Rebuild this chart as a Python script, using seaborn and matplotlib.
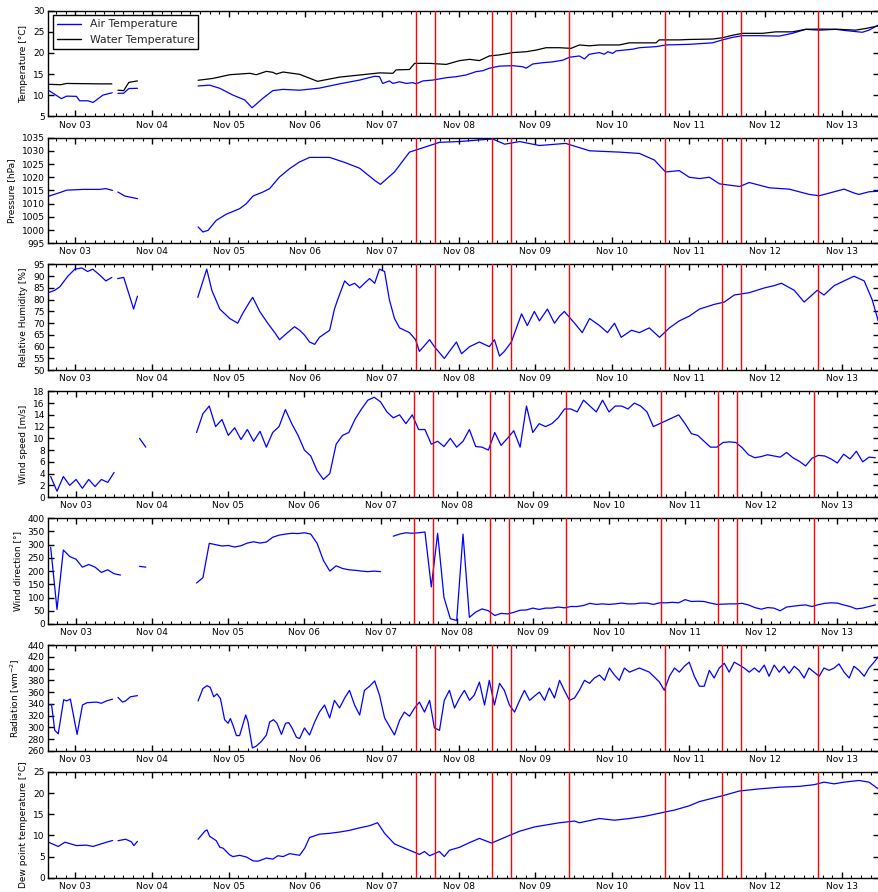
import numpy as np
import pandas as pd
import matplotlib
matplotlib.use("Agg")
import matplotlib.pyplot as plt
import matplotlib.dates as mdates
from matplotlib.lines import Line2D
import seaborn as sns

nan = np.nan
START = pd.Timestamp("2015-11-03 00:00")

# ---------------- data (times in hours after Nov 03 00:00) ----------------
air_h = [-8.5, -4.4, -2.8, 0.3, 1.3, 3.9, 5.5, 7.1, 8.6, 11.5, 12.5,
         13.3, 15.1, 16.7, 19.4, 25,
         38.4, 42.0, 45.2, 49.3, 53.0, 55.3, 58.7, 61.8, 65.0, 70.2, 76.4, 82.7, 89.0, 93.7,
         95.2, 96.2, 98.3, 99.4, 101.5, 103.6, 105.6, 106.7, 108.8, 111.9, 116.1, 119.2,
         122.3, 125.5, 127.5, 129.6, 132.8, 136.9, 140.1, 141.1, 143.2, 146.3, 149.4, 152.6,
         154.7, 157.8, 159.4, 160.9, 164.1, 165.6, 166.7, 168.2, 169.3, 174.5, 176.6, 181.8,
         184.9, 192.2, 197.4, 199.5, 202.6, 205.8, 208.9, 214.1, 220.4, 224.5, 228.7, 232.9,
         238.1, 241.2, 246.4, 248.5, 251.4]
air_t = [11.2, 9.2, 9.8, 9.75, 8.7, 8.7, 8.3, 9.2, 10.05, 10.6, nan,
         10.45, 10.5, 11.6, 11.65, nan,
         12.2, 12.4, 11.65, 10.05, 8.9, 7.05, 9.3, 11.1, 11.4, 11.2, 11.7, 12.7, 13.6, 14.5,
         14.4, 12.8, 13.4, 12.8, 13.2, 12.8, 13.0, 12.7, 13.4, 13.6, 14.15, 14.4,
         14.8, 15.6, 15.8, 16.4, 16.9, 17.0, 16.75, 16.4, 17.4, 17.7, 17.9, 18.3,
         19.0, 19.3, 18.6, 19.7, 20.1, 19.7, 20.3, 19.9, 20.5, 20.9, 21.25, 21.5,
         21.9, 22.05, 22.3, 22.4, 23.1, 23.7, 24.1, 24.1, 24.0, 24.65, 25.6, 25.4,
         25.6, 25.3, 24.9, 25.4, 26.6]

water_h = [-8.5, -4.6, -2.8, 7.6, 11.4, 12.5,
           13.3, 15.1, 16.7, 19.4, 25,
           38.4, 43.1, 48.3, 51.4, 54.6, 56.6, 59.8, 61.8, 62.9, 65.0, 70.2, 75.8, 82.7, 89.0,
           95.3, 99.4, 100.4, 104.6, 106.2, 110.9, 116.1, 120.3, 123.4, 126.5, 129.6, 132.8,
           136.9, 141.1, 144.3, 147.4, 151.6, 155.2, 157.8, 160.9, 164.1, 170.3, 173.4, 181.8,
           182.8, 189.1, 192.2, 199.5, 202.6, 205.8, 208.9, 215.2, 219.3, 224.5, 228.7, 232.9,
           239.1, 244.3, 247.5, 251.4]
water_t = [12.6, 12.5, 12.8, 12.7, 12.7, nan,
           11.2, 11.1, 13.05, 13.4, nan,
           13.55, 14.0, 14.86, 15.03, 15.2, 14.86, 15.66, 15.43, 15.03, 15.5, 14.96, 13.3, 14.3, 14.8,
           15.3, 15.2, 16.0, 16.1, 17.55, 17.55, 17.3, 18.2, 18.5, 18.2, 19.3, 19.55,
           20.1, 20.3, 20.7, 21.25, 21.25, 21.1, 21.9, 21.7, 21.9, 21.9, 22.4, 22.4,
           23.1, 23.1, 23.2, 23.3, 23.6, 24.2, 24.65, 24.65, 25.0, 25.0, 25.6, 25.65,
           25.6, 25.4, 25.8, 26.4]

press_h = [-8.5, -5.9, -4.4, -2.8, 2.4, 7.6, 9.5, 11.6, 12.5,
           13.3, 15.4, 17.0, 19.4, 25,
           38.4, 39.9, 41.5, 44.1, 47.2, 51.4, 53.5, 55.6, 58.7, 60.8, 63.9, 67.1, 70.2,
           73.3, 79.6, 84.3, 89.0, 93.7, 95.5, 99.9, 104.6, 114.0, 120.3, 130.6, 134.4,
           139.1, 145.3, 153.5, 161.0, 170.4, 176.6, 181.3, 184.8, 189.1, 192.2, 195.4,
           198.5, 201.7, 208.0, 211.0, 217.3, 223.5, 229.8, 232.9, 237.6, 240.7, 243.9,
           245.4, 248.5, 251.4]
pressure = [1012.8, 1013.8, 1014.4, 1015.1, 1015.4, 1015.4, 1015.7, 1015.0, nan,
            1014.4, 1012.9, 1012.5, 1011.9, nan,
            1001.2, 999.3, 999.9, 1003.7, 1006.0, 1008.1, 1010.0, 1012.9, 1014.4, 1015.7, 1020.1, 1023.3, 1025.8,
            1027.5, 1027.5, 1025.6, 1023.4, 1018.8, 1017.3, 1022.0, 1029.5, 1033.2, 1033.5, 1034.5, 1032.5,
            1033.5, 1032.0, 1032.8, 1030.0, 1029.5, 1029.0, 1026.5, 1022.0, 1022.5, 1020.0, 1019.5,
            1020.0, 1017.5, 1016.5, 1018.0, 1016.0, 1015.5, 1013.5, 1013.0, 1014.5, 1015.5, 1014.0,
            1013.5, 1014.5, 1014.7]

hum_h = [-8.5, -6.5, -4.9, -2.4, -0.2, 2.0, 3.8, 5.4, 7.6, 9.5, 11.4, 12.5,
         13.2, 15.1, 17.3, 18.2, 19.4, 25,
         38.3, 41.1, 42.7, 45.2, 48.3, 50.8, 52.3, 54.5, 55.5, 57.7, 60.2, 62.4, 63.9, 66.4,
         68.6, 70.2, 71.7, 73.3, 74.9, 76.4, 79.6, 81.1, 82.1, 84.3, 85.8, 87.4, 89.0, 90.5,
         92.1, 93.7, 95.2, 96.8, 98.3, 99.9, 101.5, 104.6, 106.5, 107.7, 110.9, 112.4, 115.5,
         117.1, 119.3, 120.9, 123.4, 126.5, 129.6, 131.2, 132.8, 134.3, 136.5, 138.1, 139.7,
         141.5, 143.7, 145.3, 147.8, 150.0, 151.6, 153.1, 156.3, 158.7, 161.0, 164.1, 166.6,
         168.8, 170.9, 174.1, 176.6, 179.7, 182.9, 186.0, 189.1, 192.2, 195.4, 200.0, 203.2,
         206.3, 211.0, 215.7, 218.8, 221.1, 225.1, 228.2, 232.3, 234.4, 237.6, 243.8, 247.0,
         249.5, 251.4]
humidity = [83, 84, 85.5, 90, 93, 93.5, 92, 93, 90.5, 88, 89.5, nan,
            89, 89.5, 80, 76, 81.5, nan,
            81, 93, 84, 76, 72, 70, 74, 79, 81, 75, 70, 66, 63, 66,
            68.5, 67, 65, 62, 61, 64, 67, 76, 80, 88, 86, 87, 85, 87,
            89, 87, 93, 92, 80, 72, 68, 66, 63, 58, 63, 60, 55,
            58, 62, 57, 60, 62, 60, 63, 56, 58, 62, 68, 74,
            69, 75, 71, 76, 70, 73, 75, 70, 66, 72, 69, 66,
            70, 64, 67, 66, 68, 64, 68, 71, 73, 76, 78, 79,
            82, 83, 85, 86, 87, 84, 79, 84, 82, 86, 90, 88,
            80, 71]

# wind: every 2 hours from Nov 02 16:00
WIND_H0, WIND_STEP = -8, 2
wind_speed = [3.5, 1.0, 3.5, 2.0, 3.0, 1.5, 3.0, 1.8, 3.0, 2.5, 4.2, nan, nan, nan, 10.0, 8.5,
              nan, nan, nan, nan, nan, nan, nan,
              11.0, 14.2, 15.5, 12.0, 13.2, 10.5, 11.8, 9.8, 11.5, 9.5, 11.2, 8.5, 11.0, 12.0,
              14.9, 12.5, 10.5, 8.0, 7.0, 4.5, 3.0, 4.0, 9.0, 10.5, 11.0, 13.3, 15.0, 16.5,
              17.0, 16.2, 14.5, 13.5, 14.0, 12.5, 14.0, 11.5, 11.5, 9.0, 9.5, 8.6, 10.0, 8.5,
              9.5, 11.5, 8.6, 8.5, 8.0, 11.0, 8.8, 10.0, 11.3, 8.5, 15.5, 11.0, 12.5, 12.0,
              12.5, 13.5, 15.0, 15.0, 14.5, 16.5, 15.5, 14.5, 16.5, 14.5, 15.5, 15.5, 15.0,
              16.0, 15.5, 14.5, 12.0, 12.5, 13.0, 13.5, 14.0, 12.5, 10.8, 10.5, 9.5, 8.5, 8.5,
              9.3, 9.4, 9.3, 8.4, 7.2, 6.7, 6.9, 7.2, 7.0, 6.8, 7.6, 6.7, 6.1, 5.3, 6.6, 7.1,
              7.0, 6.5, 5.8, 7.3, 6.5, 7.8, 6.0, 6.8, 6.7]
wind_dir = [290, 55, 280, 255, 245, 215, 225, 215, 195, 205, 190, 185, nan, nan, 218, 215,
            nan, nan, nan, nan, nan, nan, nan,
            155, 175, 305, 300, 295, 297, 291, 296, 306, 311, 306, 310, 328, 336,
            340, 343, 342, 345, 340, 305, 240, 200, 220, 210, 205, 203, 200, 198,
            200, 198, nan, 332, 340, 345, 343, 345, 348, 140, 343, 100, 20, 13,
            340, 25, 45, 57, 50, 32, 40, 38, 44, 52, 53, 60, 55, 60,
            60, 64, 61, 66, 66, 70, 78, 74, 76, 74, 76, 79, 76,
            76, 79, 79, 74, 80, 80, 82, 80, 92, 85, 86, 85, 79, 74,
            75, 76, 76, 78, 72, 62, 56, 62, 60, 50, 64, 67, 70, 72, 66, 73,
            78, 80, 79, 72, 66, 57, 60, 66, 72]

rad_h = [-8.5, -7.5, -6.5, -5.4, -3.7, -2.8, -1.6, 0.5, 2.2, 3.6, 6.6, 8.1, 9.7, 11.6, 12.5,
         13.3, 14.7, 15.7, 17.2, 19.4, 25,
         38.4, 39.9, 41.2, 42.2, 43.3, 44.3, 45.4, 46.7, 47.8, 48.5, 49.3, 50.4, 51.4, 53.3,
         54.0, 55.4, 56.6, 58.2, 59.8, 60.8, 62.0, 63.1, 64.5, 65.8, 66.8, 67.9, 69.2, 70.2,
         71.7, 73.3, 74.9, 76.4, 78.0, 79.6, 81.1, 82.7, 84.3, 85.8, 87.4, 89.0, 90.5, 92.1,
         93.7, 95.2, 96.8, 98.3, 99.9, 101.5, 103.0, 104.6, 106.2, 107.7, 109.3, 110.9,
         112.4, 114.0, 115.5, 117.1, 118.7, 120.3, 121.8, 123.4, 124.9, 126.5, 128.1, 129.6,
         131.2, 132.8, 134.3, 135.9, 137.5, 139.1, 140.6, 142.2, 143.7, 145.3, 146.9, 148.4,
         150.0, 151.6, 153.1, 154.7, 156.3, 157.8, 159.4, 161.0, 162.5, 164.1, 165.7, 167.2,
         168.8, 170.3, 171.9, 173.5, 176.6, 179.7, 182.9, 184.4, 186.0, 187.6, 189.1, 190.7,
         192.2, 193.8, 195.4, 196.9, 198.5, 200.0, 201.6, 203.2, 204.7, 206.3, 207.9, 209.4,
         211.0, 212.6, 214.1, 215.7, 217.2, 218.8, 220.4, 221.9, 223.5, 225.1, 226.6, 228.2,
         229.7, 231.3, 232.9, 234.4, 236.0, 237.6, 239.1, 240.7, 242.3, 243.8, 245.4, 247.0,
         248.5, 250.1, 251.4]
radiation = [338, 339, 295, 289, 347, 345, 348, 288, 338, 342, 343, 341, 345, 348, nan,
             351, 343, 345, 352, 354, nan,
             345, 366, 371, 368, 352, 357, 349, 313, 307, 315, 304, 286, 286, 321,
             310, 265, 268, 276, 287, 309, 313, 307, 288, 307, 308, 298, 283, 281,
             299, 287, 309, 326, 338, 316, 346, 333, 350, 363, 338, 321, 363, 370,
             379, 355, 316, 302, 287, 312, 326, 319, 333, 343, 326, 346,
             299, 295, 346, 363, 333, 350, 363, 346, 355, 377, 338, 380,
             338, 375, 363, 338, 326, 346, 363, 346, 353, 360, 346, 367,
             350, 380, 363, 346, 350, 363, 380, 375, 384, 389, 380, 401,
             389, 380, 401, 394, 401, 394, 377, 363, 387, 401, 394, 404,
             411, 387, 370, 370, 397, 384, 401, 409, 394, 411, 406, 401,
             394, 401, 394, 406, 387, 406, 394, 404, 392, 404, 397, 384,
             401, 394, 387, 401, 397, 401, 408, 394, 384, 404, 397, 387,
             401, 411, 420]

dew_h = [-8.5, -5.4, -3.3, 0.3, 3.4, 5.5, 7.6, 9.7, 11.6, 12.5,
         13.3, 15.7, 17.5, 18.3, 19.4, 25,
         38.4, 40.5, 41.2, 42.0, 44.1, 45.2, 46.2, 48.3, 49.3, 51.4, 53.5, 55.6, 57.1, 59.8,
         61.8, 63.4, 65.0, 67.1, 70.2, 71.8, 73.3, 76.4, 79.6, 82.7, 85.8, 89.0, 92.1, 94.6,
         96.8, 99.9, 103.0, 106.2, 107.7, 109.3, 110.9, 114.0, 115.5, 117.1, 120.3, 123.4,
         126.5, 130.3, 132.8, 135.9, 139.1, 143.7, 148.4, 151.6, 156.3, 157.8, 164.1, 168.8,
         173.5, 178.1, 181.3, 184.4, 187.6, 192.2, 195.4, 198.5, 203.2, 207.9, 214.1, 220.4,
         226.6, 231.3, 234.4, 237.6, 240.7, 245.4, 248.5, 251.4]
dewpoint = [8.4, 7.4, 8.4, 7.6, 7.7, 7.4, 7.9, 8.4, 8.8, nan,
            8.75, 9.1, 8.5, 7.6, 8.6, nan,
            9.1, 11.0, 11.3, 9.8, 8.75, 7.2, 7.0, 5.4, 5.0, 5.3, 4.9, 4.0, 3.9, 4.65,
            4.4, 5.2, 5.0, 5.7, 5.3, 7.0, 9.5, 10.3, 10.5, 10.8, 11.2, 11.8, 12.3, 13.0,
            10.5, 8.0, 7.0, 6.0, 5.5, 6.2, 5.2, 6.2, 5.0, 6.5, 7.2, 8.3,
            9.3, 8.2, 9.0, 10.0, 11.0, 12.0, 12.6, 13.0, 13.4, 13.0, 14.0, 13.6,
            14.0, 14.5, 15.0, 15.5, 16.0, 17.0, 18.0, 18.6, 19.5, 20.5, 21.0, 21.4,
            21.6, 22.0, 22.6, 22.2, 22.6, 23.0, 22.6, 21.0]

# satellite overpass markers (hours after Nov 03 00:00)
event_h = [106.5, 112.5, 130.5, 136.5, 154.5, 184.5, 202.5, 208.5, 232.5]

y_labels = ["Temperature [°C]", "Pressure [hPa]", "Relative Humidity [%]",
            "Wind speed [m/s]", "Wind direction [°]", "Radiation [wm$^{-2}$]",
            "Dew point temperature [°C]"]
y_limits = [(5, 30), (995, 1035), (50, 95), (0, 18), (0, 400), (260, 440), (0, 25)]
y_steps = [5, 5, 5, 2, 50, 20, 5]

# ---------------- styling ----------------
sns.set_theme(style="ticks", rc={
    "xtick.direction": "in", "ytick.direction": "in",
    "xtick.top": True, "ytick.right": True,
    "axes.edgecolor": "black", "axes.linewidth": 1.0,
    "xtick.major.size": 4, "xtick.minor.size": 2,
    "ytick.major.size": 4, "ytick.minor.size": 2,
    "xtick.major.width": 1.0, "ytick.major.width": 1.0,
    "xtick.minor.width": 0.8,
    "xtick.labelsize": 6.5, "ytick.labelsize": 6.5, "axes.labelsize": 6.5,
    "xtick.major.pad": 3, "ytick.major.pad": 2.5,
    "xtick.color": "black", "ytick.color": "black", "axes.labelcolor": "black",
})
plt.rcParams["font.family"] = ["DejaVu Sans"]


def to_time(hours):
    return START + pd.to_timedelta(np.asarray(hours, dtype=float), unit="h")


def frame(hours, values):
    v = np.asarray(values, dtype=float)
    seg = np.cumsum(np.isnan(v))
    df = pd.DataFrame({"time": to_time(hours), "value": v, "seg": seg})
    return df.dropna()


def draw(ax, hours, values, color):
    sns.lineplot(data=frame(hours, values), x="time", y="value", units="seg",
                 estimator=None, sort=False, color=color, lw=0.9, ax=ax, legend=False)


wind_h = [WIND_H0 + WIND_STEP * i for i in range(len(wind_speed))]

fig, axes = plt.subplots(7, 1, figsize=(8.79, 8.92), dpi=100)
fig.subplots_adjust(left=0.055, right=0.9995, top=0.988, bottom=0.016, hspace=0.2)

series = [
    [(air_h, air_t, "blue"), (water_h, water_t, "black")],
    [(press_h, pressure, "blue")],
    [(hum_h, humidity, "blue")],
    [(wind_h, wind_speed, "blue")],
    [(wind_h, wind_dir, "blue")],
    [(rad_h, radiation, "blue")],
    [(dew_h, dewpoint, "blue")],
]

for k, ax in enumerate(axes):
    for h, v, c in series[k]:
        draw(ax, h, v, c)
    for e in event_h:
        ax.axvline(to_time([e])[0], color="red", lw=1.0, zorder=3)
    if k in (3, 4):
        ax.set_xlim(to_time([-8.73])[0], to_time([253.0])[0])
    else:
        ax.set_xlim(to_time([-8.5])[0], to_time([251.5])[0])
    lo, hi = y_limits[k]
    ax.set_ylim(lo, hi)
    ax.set_yticks(np.arange(lo, hi + 0.1, y_steps[k]))
    ax.set_ylabel(y_labels[k])
    ax.set_xlabel("")
    ax.xaxis.set_major_locator(mdates.DayLocator())
    ax.xaxis.set_major_formatter(mdates.DateFormatter("%b %d"))
    ax.xaxis.set_minor_locator(mdates.HourLocator(byhour=range(0, 24, 3)))
    for s in ax.spines.values():
        s.set_visible(True)
        s.set_color("black")

axes[0].legend(handles=[Line2D([], [], color="blue", lw=1.0, label="Air Temperature"),
                        Line2D([], [], color="black", lw=1.0, label="Water Temperature")],
               loc="upper left", fontsize=7.8, frameon=True, fancybox=False,
               edgecolor="black", framealpha=1, borderaxespad=0.4, handlelength=2.2)

fig.savefig("out.png", dpi=100)
